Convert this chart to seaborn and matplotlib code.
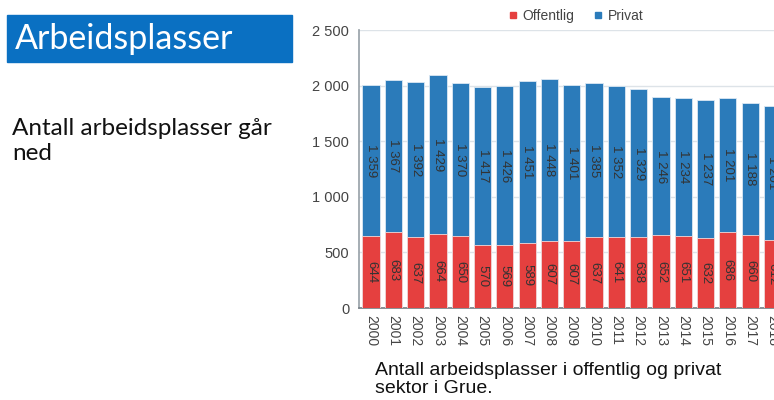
import numpy as np
import pandas as pd
import seaborn as sns
import matplotlib.pyplot as plt
from matplotlib.patches import Rectangle
from matplotlib.lines import Line2D
from matplotlib.ticker import FuncFormatter

years = [str(y) for y in range(2000, 2019)]
offentlig = [644, 683, 637, 664, 650, 570, 569, 589, 607, 607, 637, 641, 638, 652, 651, 632, 686, 660, 612]
privat = [1359, 1367, 1392, 1429, 1370, 1417, 1426, 1451, 1448, 1401, 1385, 1352, 1329, 1246, 1234, 1237, 1201, 1188, 1201]

red = '#e5403f'
blue = '#2b7bba'

df = pd.DataFrame({'year': years, 'Offentlig': offentlig, 'Privat': privat})
df['total'] = df['Offentlig'] + df['Privat']

sns.set_theme(style='white')
plt.rcParams['font.family'] = ['Liberation Sans', 'DejaVu Sans']

fig = plt.figure(figsize=(7.74, 4.0), dpi=100)

# plot area runs past the right edge, like the cropped original
ax = fig.add_axes([0.4638, 0.23, 0.5486, 0.695])
sns.barplot(data=df, x='year', y='total', color=blue, width=0.77, saturation=1,
            edgecolor='#dbe8f3', linewidth=0.6, ax=ax, zorder=2)
sns.barplot(data=df, x='year', y='Offentlig', color=red, width=0.77, saturation=1,
            edgecolor='#f3dada', linewidth=0.6, ax=ax, zorder=3)

fmt = lambda v: f'{int(v):,}'.replace(',', ' ')
for i, (o, p) in enumerate(zip(offentlig, privat)):
    ax.text(i, o / 2, fmt(o), rotation=270, ha='center', va='center',
            fontsize=9.5, color='#333333', zorder=4)
    ax.text(i, o + p / 2, fmt(p), rotation=270, ha='center', va='center',
            fontsize=9.5, color='#333333', zorder=4)

ax.set_xlim(-0.54, 18.5)
ax.set_ylim(0, 2500)
ax.set_yticks([0, 500, 1000, 1500, 2000, 2500])
ax.yaxis.set_major_formatter(FuncFormatter(lambda v, pos: fmt(v)))
ax.grid(axis='y', color='#dde3e8', linewidth=1, zorder=0)
ax.set_axisbelow(True)
ax.set_xlabel('')
ax.set_ylabel('')
ax.tick_params(axis='y', labelsize=10.5, colors='#444444', length=0, pad=7)
ax.tick_params(axis='x', labelsize=10, colors='#444444', length=0, pad=5, labelrotation=270)
for s in ['top', 'right']:
    ax.spines[s].set_visible(False)
ax.spines['left'].set_color('#9aa3aa')
ax.spines['bottom'].set_color('#7a8288')

handles = [Line2D([], [], marker='s', ls='', color=red, markersize=4),
           Line2D([], [], marker='s', ls='', color=blue, markersize=4)]
fig.legend(handles, ['Offentlig', 'Privat'], loc='center', bbox_to_anchor=(575 / 774, 1 - 16 / 400),
           ncol=2, frameon=False, fontsize=10, handletextpad=0.2, columnspacing=1.2,
           handlelength=1.0, labelcolor='#444444')

# slide header box and side text
fig.patches.append(Rectangle((7 / 774, 1 - 62 / 400), 285 / 774, 47 / 400,
                             transform=fig.transFigure, color='#0a70c2', zorder=0))
fig.text(15 / 774, 1 - 39 / 400, 'Arbeidsplasser', color='white', fontsize=24.5,
         family=['Lato', 'DejaVu Sans'], va='center', ha='left')
fig.text(12 / 774, 1 - 118 / 400, 'Antall arbeidsplasser går\nned', color='#111111', fontsize=17.5,
         family=['Lato', 'DejaVu Sans'], va='top', ha='left', linespacing=1.25)
fig.text(375 / 774, 1 - 362 / 400, 'Antall arbeidsplasser i offentlig og privat\nsektor i Grue.',
         color='#111111', fontsize=14, va='top', ha='left', linespacing=1.05)

fig.savefig('out.png', dpi=100)
